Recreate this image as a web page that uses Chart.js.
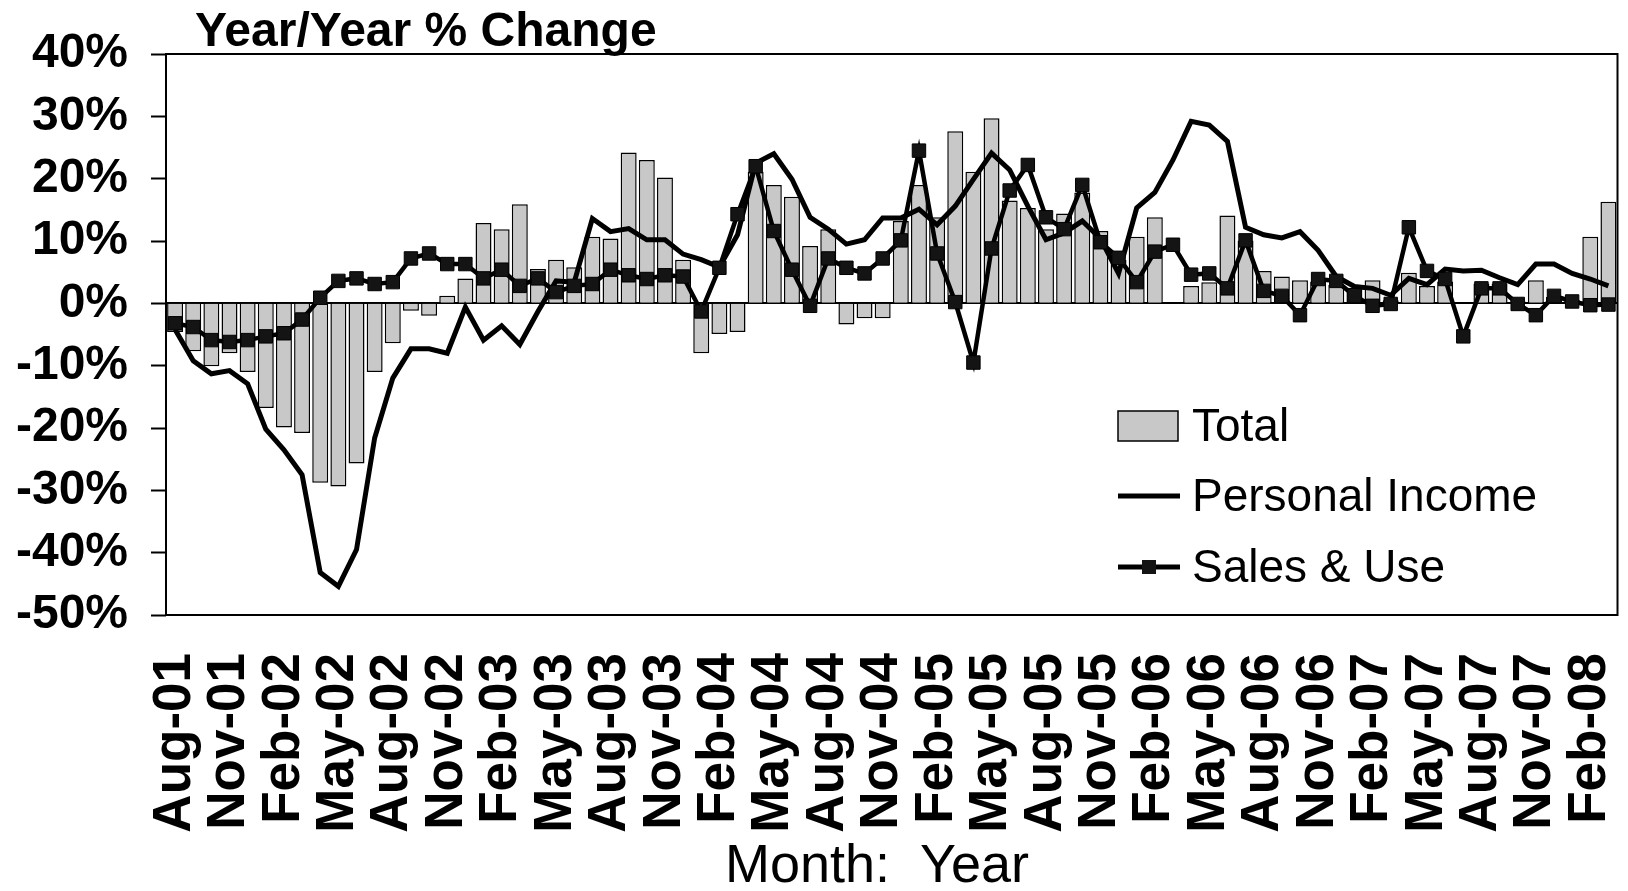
<!DOCTYPE html>
<html>
<head>
<meta charset="utf-8">
<script src="https://cdn.jsdelivr.net/npm/chart.js@4/dist/chart.umd.min.js"></script>
<style>
html,body{margin:0;padding:0;background:#fff;}
#wrap{width:1628px;height:891px;position:relative;}
</style>
</head>
<body>
<div id="wrap"><canvas id="c" width="1628" height="891"></canvas></div>
<script>
const months = [
 'Aug-01','Sep-01','Oct-01','Nov-01','Dec-01','Jan-02','Feb-02','Mar-02','Apr-02','May-02','Jun-02','Jul-02',
 'Aug-02','Sep-02','Oct-02','Nov-02','Dec-02','Jan-03','Feb-03','Mar-03','Apr-03','May-03','Jun-03','Jul-03',
 'Aug-03','Sep-03','Oct-03','Nov-03','Dec-03','Jan-04','Feb-04','Mar-04','Apr-04','May-04','Jun-04','Jul-04',
 'Aug-04','Sep-04','Oct-04','Nov-04','Dec-04','Jan-05','Feb-05','Mar-05','Apr-05','May-05','Jun-05','Jul-05',
 'Aug-05','Sep-05','Oct-05','Nov-05','Dec-05','Jan-06','Feb-06','Mar-06','Apr-06','May-06','Jun-06','Jul-06',
 'Aug-06','Sep-06','Oct-06','Nov-06','Dec-06','Jan-07','Feb-07','Mar-07','Apr-07','May-07','Jun-07','Jul-07',
 'Aug-07','Sep-07','Oct-07','Nov-07','Dec-07','Jan-08','Feb-08','Mar-08'
];
const shownLabels = ['Aug-01','Nov-01','Feb-02','May-02','Aug-02','Nov-02','Feb-03','May-03','Aug-03','Nov-03',
 'Feb-04','May-04','Aug-04','Nov-04','Feb-05','May-05','Aug-05','Nov-05','Feb-06','May-06','Aug-06','Nov-06',
 'Feb-07','May-07','Aug-07','Nov-07','Feb-08'];
const totalValues = [
 -4.6,-7.7,-10.1,-8.0,-11.0,-16.8,-19.9,-20.8,-28.8,-29.4,-25.7,-11.0,
 -6.4,-1.2,-2.0,1.2,4.0,12.9,11.9,15.9,5.5,7.0,5.8,10.7,
 10.4,24.2,23.0,20.2,7.0,-8.0,-4.9,-4.6,21.1,19.0,17.1,9.2,
 11.9,-3.4,-2.4,-2.4,13.2,19.0,13.8,27.6,21.1,29.7,16.5,15.3,
 11.9,14.4,17.8,11.6,7.0,10.7,13.8,0,2.8,3.4,14.1,10.1,
 5.2,4.3,3.7,3.5,3.0,2.5,3.7,0.5,4.9,2.8,3.5,0,
 3.2,3.2,0.3,3.7,1.0,0.5,10.7,16.3
];
const personalIncome = [
 -4.2,-9.2,-11.3,-10.8,-12.9,-20.2,-23.5,-27.5,-43.2,-45.4,-39.5,-21.6,
 -12.0,-7.3,-7.3,-8.0,-0.6,-5.9,-3.6,-6.6,-1.3,3.6,3.4,13.6,
 11.5,12.0,10.2,10.2,7.9,7.0,5.8,11.0,22.5,24.0,19.9,13.8,
 11.9,9.5,10.2,13.7,13.7,15.1,12.6,15.6,19.9,24.1,21.4,15.6,
 10.2,11.3,13.2,10.4,4.8,15.3,17.8,23.0,29.2,28.6,26.0,12.2,
 11.0,10.5,11.5,8.5,4.3,2.7,2.4,1.3,4.0,3.0,5.5,5.2,
 5.3,4.1,3.0,6.3,6.3,4.8,3.9,2.8
];
const salesUse = [
 -3.2,-3.8,-5.9,-6.2,-5.9,-5.3,-4.8,-2.6,0.9,3.6,4.0,3.1,
 3.4,7.2,8.0,6.3,6.3,4.0,5.4,2.8,4.0,1.8,2.8,3.1,
 5.4,4.5,3.9,4.5,4.3,-1.3,5.7,14.3,22.0,11.6,5.4,-0.4,
 7.2,5.7,4.8,7.2,10.1,24.5,8.0,0.2,-9.5,8.8,18.1,22.2,
 13.8,11.9,19.0,9.8,7.3,3.4,8.3,9.4,4.6,4.8,2.4,10.1,
 2.0,1.2,-1.9,3.9,3.6,1.2,-0.4,-0.1,12.2,5.2,3.9,-5.3,
 2.4,2.4,-0.1,-1.9,1.2,0.3,-0.3,-0.2
];
const yTicks = [-50,-40,-30,-20,-10,0,10,20,30,40];
const seriesNames = ['Total','Personal Income','Sales & Use'];
const titleText = 'Year/Year % Change';
const xTitleText = 'Month:  Year';

const FONT = "'Liberation Sans', Arial, Helvetica, sans-serif";

const decorPlugin = {
  id: 'decor',
  beforeDatasetsDraw(chart) {
    const {ctx, chartArea: a, scales: {y}} = chart;
    ctx.save();
    ctx.strokeStyle = '#000';
    ctx.lineWidth = 2;
    const y0 = Math.round(y.getPixelForValue(0));
    ctx.beginPath();
    ctx.moveTo(a.left, y0);
    ctx.lineTo(a.right, y0);
    ctx.stroke();
    ctx.restore();
  },
  afterDatasetsDraw(chart) {
    const {ctx, chartArea: a} = chart;
    ctx.save();
    ctx.strokeStyle = '#000';
    ctx.lineWidth = 2;
    ctx.strokeRect(a.left, a.top, a.right - a.left, a.bottom - a.top);
    ctx.restore();
  },
  afterDraw(chart) {
    const {ctx} = chart;
    ctx.save();
    ctx.fillStyle = '#000';
    ctx.font = "bold 48px " + FONT;
    ctx.textAlign = 'left';
    ctx.textBaseline = 'alphabetic';
    ctx.fillText(titleText, 195, 46);
    ctx.font = "54px " + FONT;
    ctx.textAlign = 'center';
    ctx.textBaseline = 'middle';
    ctx.fillText(xTitleText, 877, 867);
    const lx = 1118, lw = 62, tx = 1192;
    const rows = [426, 496, 567];
    ctx.font = "46px " + FONT;
    ctx.textAlign = 'left';
    ctx.textBaseline = 'middle';
    ctx.fillStyle = '#c8c8c8';
    ctx.fillRect(lx, rows[0] - 15, 60, 30);
    ctx.strokeStyle = '#000';
    ctx.lineWidth = 1.5;
    ctx.strokeRect(lx, rows[0] - 15, 60, 30);
    ctx.lineWidth = 5;
    ctx.beginPath(); ctx.moveTo(lx, rows[1]); ctx.lineTo(lx + lw, rows[1]); ctx.stroke();
    ctx.beginPath(); ctx.moveTo(lx, rows[2]); ctx.lineTo(lx + lw, rows[2]); ctx.stroke();
    ctx.fillStyle = '#141414';
    ctx.fillRect(lx + lw / 2 - 7, rows[2] - 7, 14, 14);
    ctx.fillStyle = '#000';
    seriesNames.forEach((n, i) => ctx.fillText(n, tx, rows[i] + 2));
    ctx.restore();
  }
};

new Chart(document.getElementById('c'), {
  type: 'bar',
  data: {
    labels: months,
    datasets: [
      {
        type: 'line', label: seriesNames[2], data: salesUse, order: 1,
        borderColor: '#000', borderWidth: 4.5, tension: 0,
        pointStyle: 'rect', pointRadius: 9.5, pointHoverRadius: 9.5,
        pointBackgroundColor: '#141414', pointBorderColor: '#000', pointBorderWidth: 1
      },
      {
        type: 'line', label: seriesNames[1], data: personalIncome, order: 2,
        borderColor: '#000', borderWidth: 5, tension: 0, pointRadius: 0
      },
      {
        type: 'bar', label: seriesNames[0], data: totalValues, order: 3,
        backgroundColor: '#c8c8c8', borderColor: '#000', borderWidth: 1.5,
        categoryPercentage: 1.0, barPercentage: 0.88
      }
    ]
  },
  options: {
    responsive: false,
    animation: false,
    devicePixelRatio: 1,
    layout: { padding: { top: 54, right: 4, left: 0, bottom: 0 } },
    plugins: { legend: { display: false }, title: { display: false }, tooltip: { enabled: false } },
    scales: {
      x: {
        type: 'category',
        offset: true,
        grid: { display: false, drawTicks: false },
        border: { display: false },
        afterFit(scale) { scale.height = 276; scale.paddingLeft = 0; scale.paddingRight = 0; },
        ticks: {
          autoSkip: false, maxRotation: 90, minRotation: 90, padding: 38,
          color: '#000', font: { family: FONT, size: 53, weight: 'bold' },
          callback(val, idx) { const m = months[idx]; return shownLabels.includes(m) ? m : null; }
        }
      },
      y: {
        min: yTicks[0], max: yTicks[yTicks.length - 1],
        afterFit(scale) { scale.width = 166; scale.paddingTop = 0; scale.paddingBottom = 0; },
        afterBuildTicks(scale) { scale.ticks = yTicks.map(v => ({ value: v })); },
        grid: { drawOnChartArea: false, drawTicks: true, tickLength: 15, tickColor: '#000', tickWidth: 2 },
        border: { display: false },
        ticks: {
          autoSkip: false, padding: 23, color: '#000', font: { family: FONT, size: 48, weight: 'bold' },
          callback(v) { return v + '%'; }
        }
      }
    }
  },
  plugins: [decorPlugin]
});
</script>
</body>
</html>
